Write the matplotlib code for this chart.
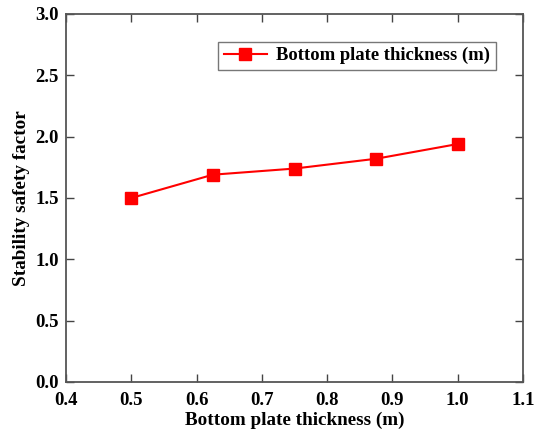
import matplotlib.pyplot as plt

plt.rcParams['font.family'] = ['Liberation Serif', 'DejaVu Serif']
plt.rcParams['font.weight'] = 'bold'

thickness = [0.5, 0.625, 0.75, 0.875, 1.0]
safety_factor = [1.50, 1.69, 1.74, 1.82, 1.94]
xticks = [0.4, 0.5, 0.6, 0.7, 0.8, 0.9, 1.0, 1.1]
yticks = [0.0, 0.5, 1.0, 1.5, 2.0, 2.5, 3.0]

fig = plt.figure(figsize=(5.34, 4.34), dpi=100)
ax = fig.add_axes([66 / 534, 1 - 382 / 434, 457 / 534, 368 / 434])

ax.plot(thickness, safety_factor, color='red', marker='s', markersize=9,
        linewidth=1.5, label='Bottom plate thickness (m)')

ax.set_xlim(0.4, 1.1)
ax.set_ylim(0, 3.0)
ax.set_xticks(xticks)
ax.set_yticks(yticks)
ax.set_xticklabels(['%.1f' % v for v in xticks])
ax.set_yticklabels(['%.1f' % v for v in yticks])
ax.tick_params(direction='in', top=True, right=True, labelsize=13.5,
               length=6, width=1, color='#444444')
ax.tick_params(axis='x', pad=7)
ax.tick_params(axis='y', pad=5)
for s in ax.spines.values():
    s.set_color('#555555')
    s.set_linewidth(1.3)

ax.set_xlabel('Bottom plate thickness (m)', fontsize=13.8, fontweight='bold', labelpad=2)
ax.set_ylabel('Stability safety factor', fontsize=13.8, fontweight='bold', labelpad=4)

leg = ax.legend(loc='upper right', bbox_to_anchor=(0.94, 0.925), fontsize=13.4,
                frameon=True, fancybox=False, edgecolor='#555555',
                handlelength=2.3, handletextpad=0.5, borderpad=0.3,
                borderaxespad=0)
leg.get_frame().set_linewidth(1.0)

fig.savefig('out.png', dpi=100)
